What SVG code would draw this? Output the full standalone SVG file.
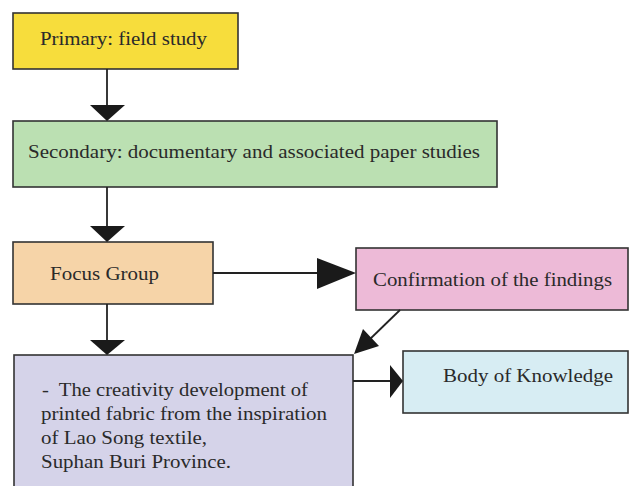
<svg xmlns="http://www.w3.org/2000/svg" width="630" height="486" viewBox="0 0 630 486">
<style>
.box{stroke:#333;stroke-width:1.6}
.t{font-family:"Liberation Serif","Times New Roman",serif;font-size:18px;fill:#2a2a2a}
.ln{stroke:#222;stroke-width:1.8;fill:none}
.ah{fill:#1a1a1a}
</style>
<rect width="630" height="486" fill="#ffffff"/>
<g id="primary">
<rect class="box" x="13" y="13" width="225" height="56" fill="#f7dd3c"/>
<text class="t" x="40" y="45" textLength="167" lengthAdjust="spacingAndGlyphs">Primary: field study</text>
</g>
<g id="secondary">
<rect class="box" x="13" y="121" width="484" height="66" fill="#bbe0b2"/>
<text class="t" x="28" y="158" textLength="452" lengthAdjust="spacingAndGlyphs">Secondary: documentary and associated paper studies</text>
</g>
<g id="focus">
<rect class="box" x="13" y="242" width="200" height="62" fill="#f6d4a8"/>
<text class="t" x="50" y="280" textLength="109" lengthAdjust="spacingAndGlyphs">Focus Group</text>
</g>
<g id="confirmation">
<rect class="box" x="356" y="248" width="272" height="62" fill="#edbad7"/>
<text class="t" x="373" y="286" textLength="239" lengthAdjust="spacingAndGlyphs">Confirmation of the findings</text>
</g>
<g id="creative">
<rect class="box" x="14" y="355" width="339" height="140" fill="#d5d3e9"/>
<text class="t" x="42" y="396" textLength="266" lengthAdjust="spacingAndGlyphs">-&#160; The creativity development of</text>
<text class="t" x="41" y="420" textLength="286" lengthAdjust="spacingAndGlyphs">printed fabric from the inspiration</text>
<text class="t" x="41" y="444" textLength="166" lengthAdjust="spacingAndGlyphs">of Lao Song textile,</text>
<text class="t" x="41" y="468" textLength="190" lengthAdjust="spacingAndGlyphs">Suphan Buri Province.</text>
</g>
<g id="body">
<rect class="box" x="403" y="351" width="225" height="62" fill="#d7edf3"/>
<text class="t" x="443" y="382" textLength="170" lengthAdjust="spacingAndGlyphs">Body of Knowledge</text>
</g>
<g id="connectors">
<line class="ln" x1="107" y1="69" x2="107" y2="106"/>
<polygon class="ah" points="90,105 125,105 107,121"/>
<line class="ln" x1="107" y1="187" x2="107" y2="227"/>
<polygon class="ah" points="90,226 125,226 107,242"/>
<line class="ln" x1="107" y1="304" x2="107" y2="341"/>
<polygon class="ah" points="90,340 125,340 107,355"/>
<line class="ln" x1="213" y1="273" x2="318" y2="273"/>
<polygon class="ah" points="317,258 317,289 356,273"/>
<line class="ln" x1="400" y1="310" x2="368" y2="341"/>
<polygon class="ah" points="354,354 363,329 379,346"/>
<line class="ln" x1="353" y1="381" x2="391" y2="381"/>
<polygon class="ah" points="390,365 390,398 403,381"/>
</g>
</svg>
